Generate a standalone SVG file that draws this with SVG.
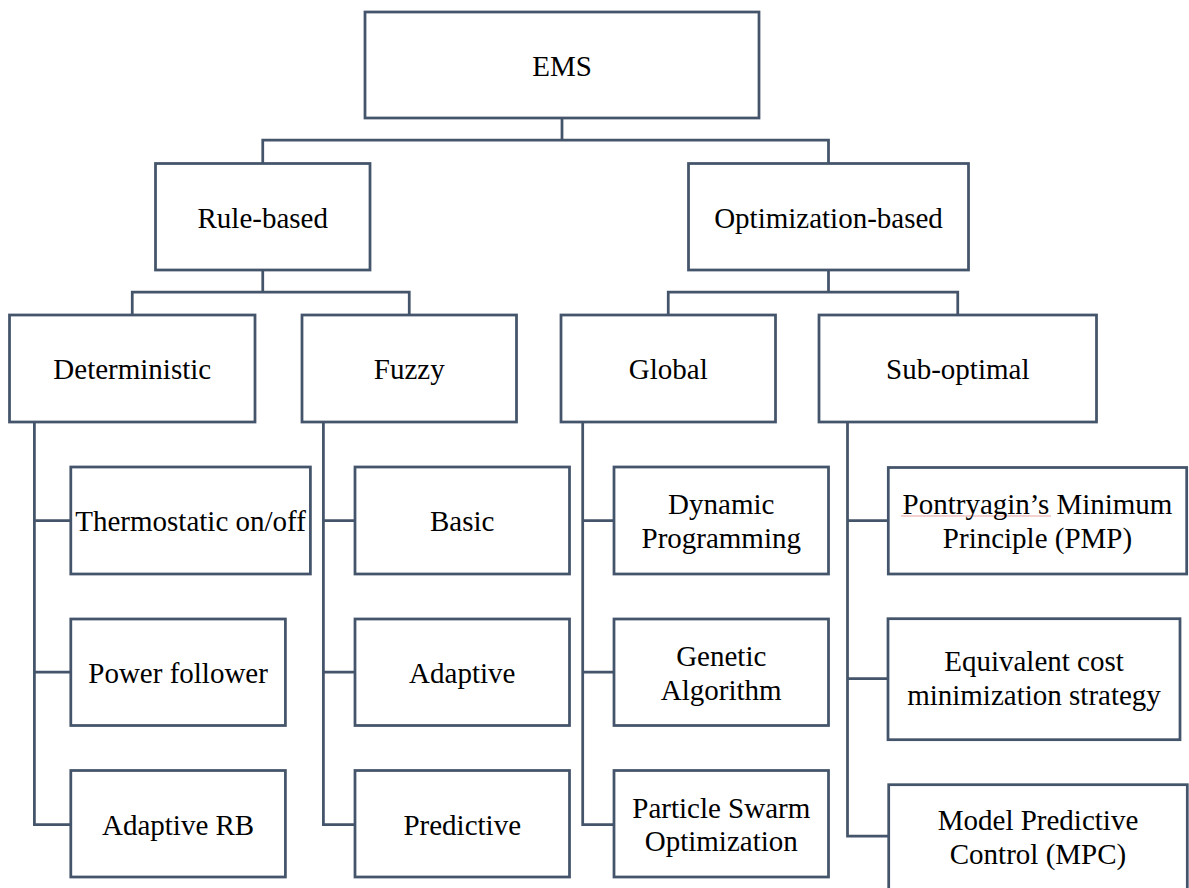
<svg xmlns="http://www.w3.org/2000/svg" width="1189" height="888" viewBox="0 0 1189 888">
  <style>
    .box { fill: #ffffff; stroke: #44546A; stroke-width: 2.75; }
    .wire { fill: none; stroke: #44546A; stroke-width: 2.75; stroke-linejoin: miter; }
    .lbl { font-family: "Liberation Serif", "Times New Roman", serif; font-size: 29px; fill: #000000; text-anchor: middle; }
    .squiggle { fill: none; stroke: #E9A3A3; stroke-width: 1; }
  </style>
  <rect x="0" y="0" width="1189" height="888" fill="#ffffff"/>

  <!-- tree connectors -->
  <g id="connectors">
    <path class="wire" d="M562 118 V140 M262.75 163.5 V140 H828.5 V163.5"/>
    <path class="wire" d="M262.75 270 V292 M132.25 315 V292 H409.25 V315"/>
    <path class="wire" d="M828.5 270 V292 M668.25 315 V292 H957.75 V315"/>
    <path class="wire" d="M34.4 422 V824.5 H70.8 M34.4 520.5 H70.8 M34.4 672 H70.8"/>
    <path class="wire" d="M323.4 422 V824.5 H355 M323.4 520.5 H355 M323.4 672 H355"/>
    <path class="wire" d="M582.7 422 V824.5 H614 M582.7 520.5 H614 M582.7 672 H614"/>
    <path class="wire" d="M847.5 422 V836 H888.7 M847.5 520.5 H888.3 M847.5 678.5 H888"/>
  </g>

  <!-- root -->
  <g id="ems">
    <rect class="box" x="365" y="12" width="394" height="106"/>
    <text class="lbl" x="562" y="76">EMS</text>
  </g>

  <!-- second level -->
  <g id="rule-based">
    <rect class="box" x="155.5" y="163.5" width="214.5" height="106.5"/>
    <text class="lbl" x="262.75" y="227.5">Rule-based</text>
  </g>
  <g id="optimization-based">
    <rect class="box" x="688.5" y="163.5" width="280" height="106.5"/>
    <text class="lbl" x="828.5" y="227.5">Optimization-based</text>
  </g>

  <!-- third level -->
  <g id="deterministic">
    <rect class="box" x="9.5" y="315" width="245.5" height="107"/>
    <text class="lbl" x="132.25" y="379">Deterministic</text>
  </g>
  <g id="fuzzy">
    <rect class="box" x="302" y="315" width="214.5" height="107"/>
    <text class="lbl" x="409.25" y="379">Fuzzy</text>
  </g>
  <g id="global">
    <rect class="box" x="561" y="315" width="214.5" height="107"/>
    <text class="lbl" x="668.25" y="379">Global</text>
  </g>
  <g id="sub-optimal">
    <rect class="box" x="819" y="315" width="277.5" height="107"/>
    <text class="lbl" x="957.75" y="379">Sub-optimal</text>
  </g>

  <!-- deterministic leaves -->
  <g id="thermostatic">
    <rect class="box" x="70.8" y="467" width="239.6" height="107"/>
    <text class="lbl" x="190.6" y="531">Thermostatic on/off</text>
  </g>
  <g id="power-follower">
    <rect class="box" x="70.8" y="619" width="214.6" height="106.5"/>
    <text class="lbl" x="178.1" y="682.5">Power follower</text>
  </g>
  <g id="adaptive-rb">
    <rect class="box" x="70.8" y="770.5" width="214.6" height="106.5"/>
    <text class="lbl" x="178.1" y="834.5">Adaptive RB</text>
  </g>

  <!-- fuzzy leaves -->
  <g id="basic">
    <rect class="box" x="355" y="467" width="214.5" height="107"/>
    <text class="lbl" x="462.25" y="531">Basic</text>
  </g>
  <g id="adaptive">
    <rect class="box" x="355" y="619" width="214.5" height="106.5"/>
    <text class="lbl" x="462.25" y="682.5">Adaptive</text>
  </g>
  <g id="predictive">
    <rect class="box" x="355" y="770.5" width="214.5" height="106.5"/>
    <text class="lbl" x="462.25" y="834.5">Predictive</text>
  </g>

  <!-- global leaves -->
  <g id="dynamic-programming">
    <rect class="box" x="614" y="467" width="214.5" height="107"/>
    <text class="lbl" x="721.25" y="514">Dynamic</text>
    <text class="lbl" x="721.25" y="547.5">Programming</text>
  </g>
  <g id="genetic-algorithm">
    <rect class="box" x="614" y="619" width="214.5" height="106.5"/>
    <text class="lbl" x="721.25" y="666">Genetic</text>
    <text class="lbl" x="721.25" y="699.5">Algorithm</text>
  </g>
  <g id="pso">
    <rect class="box" x="614" y="770.5" width="214.5" height="106.5"/>
    <text class="lbl" x="721.25" y="817.5">Particle Swarm</text>
    <text class="lbl" x="721.25" y="851">Optimization</text>
  </g>

  <!-- sub-optimal leaves -->
  <g id="pmp">
    <rect class="box" x="888.3" y="467.5" width="298.4" height="106.5"/>
    <path class="squiggle" d="M901 516 H1051"/>
    <text class="lbl" x="1037.5" y="514.3">Pontryagin’s Minimum</text>
    <text class="lbl" x="1037.5" y="547.7">Principle (PMP)</text>
  </g>
  <g id="ecms">
    <rect class="box" x="888" y="618.7" width="292" height="121"/>
    <text class="lbl" x="1034" y="671.3">Equivalent cost</text>
    <text class="lbl" x="1034" y="705">minimization strategy</text>
  </g>
  <g id="mpc">
    <rect class="box" x="888.7" y="784.7" width="298.6" height="125"/>
    <text class="lbl" x="1038" y="830.3">Model Predictive</text>
    <text class="lbl" x="1038" y="864">Control (MPC)</text>
  </g>
</svg>
